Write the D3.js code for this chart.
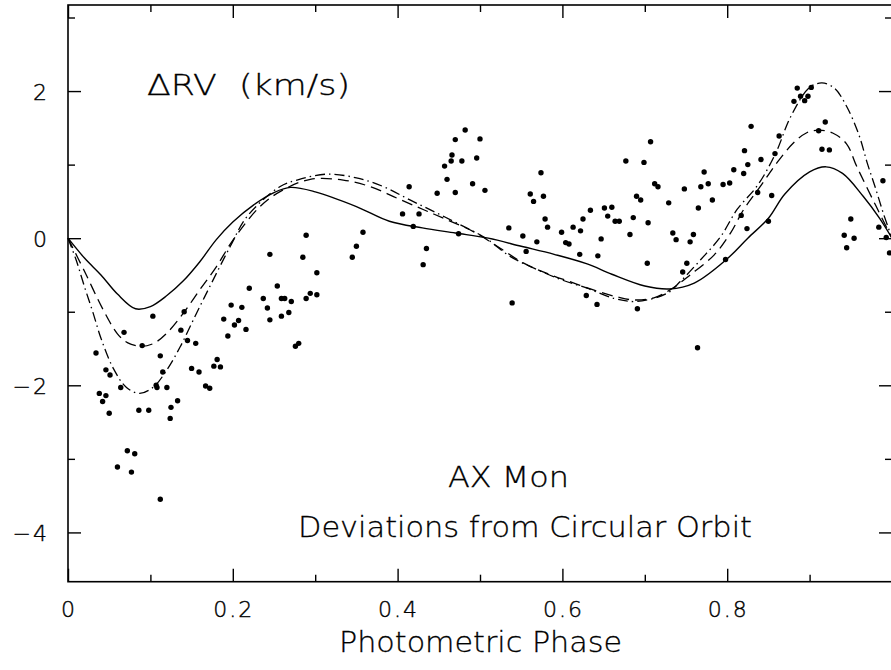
<!DOCTYPE html>
<html>
<head>
<meta charset="utf-8">
<script src="https://cdn.jsdelivr.net/npm/d3@7"></script>
<style>
  body { margin: 0; background: #fff; }
  svg { display: block; }
  text { font-family: "DejaVu Sans", "Liberation Sans", sans-serif; font-weight: 200; fill: #000; }
</style>
</head>
<body>
<div id="chart"></div>
<script>
// observed residuals: [photometric phase, delta RV km/s]
const observed = [
  [0.245,-0.22],[0.103,-1.06],[0.141,-1.00],[0.068,-1.28],[0.090,-1.46],[0.137,-1.25],[0.145,-1.39],
  [0.155,-1.43],[0.034,-1.56],[0.112,-1.60],[0.046,-1.79],[0.051,-1.86],[0.115,-1.82],[0.150,-1.77],
  [0.159,-1.82],[0.064,-2.03],[0.107,-2.00],[0.108,-2.03],[0.120,-2.03],[0.167,-2.01],[0.172,-2.04],
  [0.038,-2.11],[0.046,-2.14],[0.042,-2.22],[0.050,-2.38],[0.086,-2.34],[0.098,-2.34],[0.125,-2.30],
  [0.133,-2.21],[0.124,-2.45],[0.072,-2.89],[0.081,-2.93],[0.060,-3.11],[0.077,-3.18],[0.112,-3.55],
  [0.177,-1.74],[0.185,-1.75],[0.181,-1.65],[0.189,-1.10],[0.194,-1.33],[0.198,-0.91],[0.202,-1.18],
  [0.207,-1.12],[0.211,-0.94],[0.216,-1.24],[0.220,-0.68],[0.237,-0.82],[0.242,-0.95],[0.245,-1.11],
  [0.254,-0.65],[0.259,-0.82],[0.263,-0.82],[0.259,-1.06],[0.268,-1.01],[0.271,-0.86],[0.276,-1.47],
  [0.280,-1.43],
  [0.289,0.04],[0.285,-0.26],[0.302,-0.47],[0.289,-0.82],[0.294,-0.75],[0.302,-0.77],[0.358,0.08],
  [0.350,-0.11],[0.345,-0.26],[0.414,0.70],[0.406,0.33],[0.426,0.33],[0.419,0.16],[0.435,-0.14],
  [0.431,-0.36],[0.448,0.61],[0.457,0.98],[0.460,0.80],[0.466,1.13],[0.465,1.05],[0.470,1.34],
  [0.482,1.47],[0.478,1.05],[0.470,0.62],[0.496,1.09],[0.500,1.35],[0.491,0.74],[0.506,0.65],
  [0.474,0.06],[0.535,0.14],[0.539,-0.88],[0.552,0.03],[0.556,-0.18],[0.569,-0.05],[0.561,0.60],
  [0.565,0.50],[0.574,0.89],[0.577,0.57],[0.579,0.26],[0.582,0.15],[0.599,0.08],[0.604,-0.06],
  [0.608,-0.08],[0.613,0.15],[0.622,0.10],[0.625,0.26],[0.621,-0.22],[0.629,-0.78],[0.634,0.38],
  [0.647,-0.01],[0.643,-0.24],[0.651,0.41],[0.660,0.42],[0.655,0.30],[0.664,0.23],[0.669,0.23],
  [0.677,1.05],[0.682,0.05],[0.686,0.28],[0.690,0.57],[0.695,0.52],[0.699,1.03],[0.704,0.21],
  [0.703,-0.34],[0.707,1.31],[0.712,0.74],[0.716,0.70],[0.729,0.48],[0.734,0.07],[0.738,-0.02],
  [0.748,0.67],[0.751,-0.34],[0.746,-0.46],[0.755,-0.05],[0.759,0.05],[0.765,0.41],[0.768,0.70],
  [0.772,0.90],[0.777,0.74],[0.782,0.52],[0.795,0.73],[0.803,0.75],[0.798,-0.29],[0.808,0.93],
  [0.817,0.31],[0.824,0.13],[0.820,0.88],[0.821,1.19],[0.825,1.00],[0.829,1.52],[0.837,0.62],
  [0.841,1.07],[0.854,0.58],[0.850,0.23],[0.858,1.15],[0.863,1.39],[0.881,1.86],[0.885,2.04],
  [0.889,1.93],[0.894,1.87],[0.898,1.93],[0.902,2.05],[0.911,1.46],[0.919,1.58],[0.915,1.21],
  [0.924,1.20],[0.942,0.04],[0.950,0.26],[0.954,0.00],[0.945,-0.13],[0.984,0.15],[0.989,0.78],
  [0.993,0.01],[0.997,-0.20],
  [0.642,-0.90],[0.691,-0.96],[0.764,-1.49]
];

// model curves
const fitSolid = [
  [0,0],[0.02,-0.27],[0.04,-0.50],[0.06,-0.76],[0.082,-0.96],[0.10,-0.93],[0.12,-0.78],[0.14,-0.58],
  [0.16,-0.32],[0.18,-0.02],[0.20,0.22],[0.225,0.45],[0.25,0.62],[0.27,0.69],[0.30,0.63],[0.35,0.43],
  [0.39,0.23],[0.43,0.14],[0.47,0.07],[0.51,0.0],[0.55,-0.11],[0.59,-0.22],[0.63,-0.35],[0.66,-0.49],
  [0.70,-0.65],[0.73,-0.69],[0.76,-0.61],[0.80,-0.28],[0.825,0.0],[0.85,0.27],[0.87,0.60],[0.90,0.90],
  [0.92,0.97],[0.94,0.88],[0.965,0.57],[0.985,0.27],[1.0,0.0]
];
const fitDashed = [
  [0,0],[0.02,-0.45],[0.043,-0.98],[0.06,-1.30],[0.072,-1.42],[0.089,-1.47],[0.104,-1.43],[0.12,-1.29],
  [0.14,-1.02],[0.16,-0.70],[0.18,-0.39],[0.20,-0.03],[0.233,0.43],[0.26,0.65],[0.294,0.80],[0.334,0.79],
  [0.367,0.70],[0.40,0.54],[0.431,0.39],[0.46,0.25],[0.492,0.09],[0.525,-0.14],[0.553,-0.34],[0.586,-0.50],
  [0.614,-0.61],[0.634,-0.69],[0.667,-0.80],[0.687,-0.84],[0.711,-0.81],[0.731,-0.70],[0.755,-0.50],
  [0.784,-0.23],[0.804,0.07],[0.82,0.39],[0.84,0.70],[0.86,1.02],[0.88,1.29],[0.896,1.43],[0.911,1.47],
  [0.928,1.43],[0.945,1.28],[0.957,0.98],[0.98,0.45],[1.0,0.0]
];
const fitDashDot = [
  [0,0],[0.01,-0.30],[0.02,-0.66],[0.03,-1.00],[0.04,-1.36],[0.055,-1.77],[0.071,-2.03],[0.087,-2.11],
  [0.104,-2.02],[0.12,-1.79],[0.136,-1.48],[0.156,-1.02],[0.176,-0.57],[0.197,-0.11],[0.217,0.29],
  [0.257,0.70],[0.278,0.79],[0.314,0.87],[0.35,0.82],[0.383,0.70],[0.415,0.52],[0.448,0.34],[0.48,0.16],
  [0.507,0.0],[0.537,-0.25],[0.57,-0.43],[0.60,-0.57],[0.63,-0.68],[0.663,-0.82],[0.69,-0.86],
  [0.727,-0.75],[0.743,-0.59],[0.768,-0.29],[0.792,0.02],[0.812,0.39],[0.837,0.72],[0.859,1.16],
  [0.877,1.65],[0.90,2.05],[0.915,2.11],[0.93,2.04],[0.945,1.79],[0.96,1.40],[0.97,1.02],[0.98,0.68],
  [0.99,0.32],[1.0,0.0]
];

const xMajor = [0, 0.2, 0.4, 0.6, 0.8];
const xMinor = [0.1, 0.3, 0.5, 0.7, 0.9];
const yMajor = [-4, -2, 0, 2];
const yMinor = [-3, -1, 1, 3];

const W = 891, H = 670;
const box = { left: 68, right: 892, top: 5, bottom: 581.7 };

const svg = d3.select("#chart").append("svg")
  .attr("width", W)
  .attr("height", H);

const x = d3.scaleLinear().domain([0, 1]).range([box.left, box.right]);
const y = d3.scaleLinear().domain([-4.67, 3.17]).range([box.bottom, box.top]);

const fmtX = d => d === 0 ? "0" : d3.format(".1f")(d);
const fmtY = d => d < 0 ? "\u2212" + Math.abs(d) : String(d);

// ticks (inward) on all four sides
function tickAxis(axis, values, size, tx, ty) {
  const g = svg.append("g")
    .attr("transform", `translate(${tx},${ty})`)
    .call(axis.tickValues(values).tickSize(size).tickFormat(""));
  g.select(".domain").remove();
  g.selectAll("line").attr("stroke", "#000").attr("stroke-width", 1.4);
  return g;
}
tickAxis(d3.axisBottom(x), xMajor, -13, 0, box.bottom);
tickAxis(d3.axisBottom(x), xMinor, -7, 0, box.bottom);
tickAxis(d3.axisTop(x), xMajor, -13, 0, box.top);
tickAxis(d3.axisTop(x), xMinor, -7, 0, box.top);
tickAxis(d3.axisLeft(y), yMajor, -13, box.left, 0);
tickAxis(d3.axisLeft(y), yMinor, -7, box.left, 0);
tickAxis(d3.axisRight(y), yMajor, -13, box.right, 0);
tickAxis(d3.axisRight(y), yMinor, -7, box.right, 0);

svg.append("rect")
  .attr("x", box.left).attr("y", box.top)
  .attr("width", box.right - box.left).attr("height", box.bottom - box.top)
  .attr("fill", "none").attr("stroke", "#000").attr("stroke-width", 1.6);

// tick labels (slightly stroked so the thin face reads as black)
svg.append("g").selectAll("text")
  .data(xMajor).join("text")
  .attr("x", d => x(d) + 1).attr("y", 616.5)
  .attr("text-anchor", "middle")
  .attr("stroke", "#000").attr("stroke-width", 0.4)
  .style("font-size", "22px").style("letter-spacing", "2px")
  .text(fmtX);

svg.append("g").selectAll("text")
  .data(yMajor).join("text")
  .attr("x", 49).attr("y", d => y(d) + 8.5)
  .attr("text-anchor", "end")
  .attr("stroke", "#000").attr("stroke-width", 0.4)
  .style("font-size", "22px").style("letter-spacing", "2px")
  .text(fmtY);

// model curves
const line = d3.line()
  .x(d => x(d[0]))
  .y(d => y(d[1]))
  .curve(d3.curveCatmullRom.alpha(0.5));

const plot = svg.append("g");
plot.append("path").datum(fitSolid)
  .attr("d", line).attr("fill", "none").attr("stroke", "#000").attr("stroke-width", 1.4);
plot.append("path").datum(fitDashed)
  .attr("d", line).attr("fill", "none").attr("stroke", "#000").attr("stroke-width", 1.3)
  .attr("stroke-dasharray", "11,6");
plot.append("path").datum(fitDashDot)
  .attr("d", line).attr("fill", "none").attr("stroke", "#000").attr("stroke-width", 1.3)
  .attr("stroke-dasharray", "10,4,1.5,4");

plot.append("g").selectAll("circle")
  .data(observed).join("circle")
  .attr("cx", d => x(d[0]))
  .attr("cy", d => y(d[1]))
  .attr("r", 2.7)
  .attr("fill", "#000");

// annotations
function label(txt, x0, base, len) {
  svg.append("text")
    .attr("x", x0).attr("y", base)
    .attr("textLength", len).attr("lengthAdjust", "spacingAndGlyphs")
    .attr("stroke", "#000").attr("stroke-width", 0.3)
    .style("font-size", "28px").style("white-space", "pre")
    .text(txt);
}
label("\u0394RV  (km/s)", 147, 95, 203);
label("AX Mon", 448, 486.5, 121);
label("Deviations from Circular Orbit", 298, 537, 454);
label("Photometric Phase", 339, 651.5, 283);
</script>
</body>
</html>
